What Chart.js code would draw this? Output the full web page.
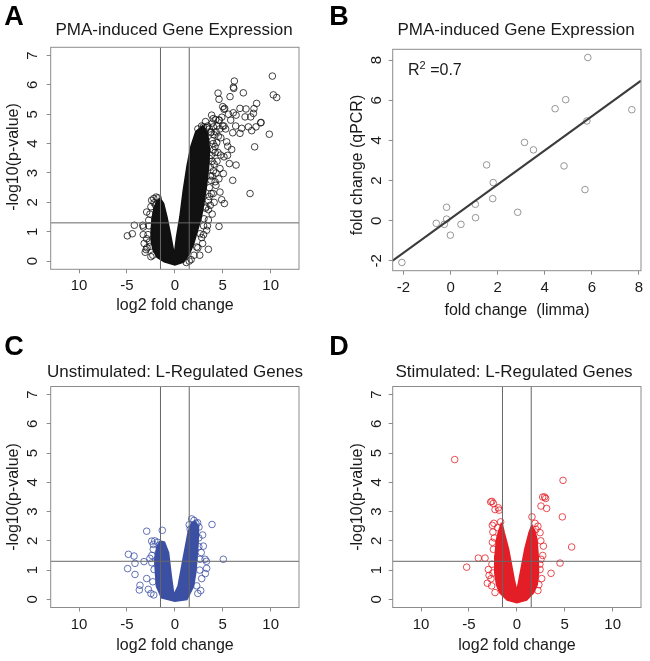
<!DOCTYPE html>
<html>
<head>
<meta charset="utf-8">
<title>PMA-induced gene expression</title>
<script src="https://cdn.jsdelivr.net/npm/chart.js@4.4.1/dist/chart.umd.min.js"></script>
<style>
  body { margin: 0; background: #fff; }
  #fig { position: relative; width: 650px; height: 661px; overflow: hidden;
         font-family: "Liberation Sans", Arial, sans-serif; color: #1a1a1a; }
  canvas { position: absolute; }
  .t { position: absolute; white-space: nowrap; line-height: 1; transform: translate(-50%, -50%); }
  .rot { transform: translate(-50%, -50%) rotate(-90deg); }
  .letter { font-weight: bold; font-size: 27px; color: #000; }
  .title { font-size: 17px; }
  .ax { font-size: 16px; }
  .r2 { position: absolute; font-size: 16px; line-height: 1; transform: translateY(-50%); }
  .r2 sup { font-size: 11px; vertical-align: 6px; }
</style>
</head>
<body>
<div id="fig">
  <canvas id="chartA" width="325" height="330" style="left:0;top:0"></canvas>
  <canvas id="chartB" width="325" height="330" style="left:325px;top:0"></canvas>
  <canvas id="chartC" width="325" height="331" style="left:0;top:330px"></canvas>
  <canvas id="chartD" width="325" height="331" style="left:325px;top:330px"></canvas>

  <div class="t letter" style="left:14px;top:16px">A</div>
  <div class="t title" style="left:174px;top:29px">PMA-induced Gene Expression</div>
  <div class="t ax" style="left:175px;top:305px">log2 fold change</div>
  <div class="t ax rot" style="left:13px;top:157px">-log10(p-value)</div>

  <div class="t letter" style="left:339px;top:16px">B</div>
  <div class="t title" style="left:516px;top:29px">PMA-induced Gene Expression</div>
  <div class="t ax" style="left:517px;top:310px">fold change&nbsp; (limma)</div>
  <div class="t ax rot" style="left:357px;top:165px">fold change (qPCR)</div>
  <div class="r2" style="left:408px;top:69px">R<sup>2</sup> =0.7</div>

  <div class="t letter" style="left:14px;top:346px">C</div>
  <div class="t title" style="left:175px;top:371px">Unstimulated: L-Regulated Genes</div>
  <div class="t ax" style="left:175px;top:645px">log2 fold change</div>
  <div class="t ax rot" style="left:13px;top:497px">-log10(p-value)</div>

  <div class="t letter" style="left:339px;top:346px">D</div>
  <div class="t title" style="left:514px;top:371px">Stimulated: L-Regulated Genes</div>
  <div class="t ax" style="left:517px;top:645px">log2 fold change</div>
  <div class="t ax rot" style="left:357px;top:497px">-log10(p-value)</div>
</div>
<script>
// volcano axes (shared by A, C, D)
const volXRange = [-12.96, 12.96];
const volYRange = [-0.28, 7.28];
const volXTicks = [-10, -5, 0, 5, 10];
const volXLabels = ['10', '-5', '0', '5', '10'];
const volYTicks = [0, 1, 2, 3, 4, 5, 6, 7];
const volYLabels = ['0', '1', '2', '3', '4', '5', '6', '7'];
const foldCut = [-1.5, 1.5];
const pCut = 1.301;

// A: PMA-induced, dense core outline + visible single genes
const aCore = [[-1.55,2.13],[-1.9,2.02],[-2.15,1.8],[-2.35,1.45],[-2.45,1.05],[-2.45,0.7],[-2.25,0.38],
  [-1.85,0.14],[-1.1,-0.02],[0.0,-0.12],[0.9,-0.03],[1.5,0.25],[1.95,0.6],[2.35,1.05],[2.75,1.5],
  [3.05,2.05],[3.3,2.6],[3.5,3.2],[3.6,3.8],[3.4,4.35],[2.9,4.6],[2.2,4.4],[1.7,3.9],[1.3,3.25],
  [0.9,2.4],[0.55,1.5],[0.2,0.82],[0.02,0.35],[-0.16,0.35],[-0.5,0.94],[-0.85,1.5],[-1.2,1.96]];
const aGenes = [[10.18,6.30],[6.21,6.13],[6.11,5.92],[6.15,5.88],[4.51,5.72],[7.15,5.73],[5.76,5.60],
  [4.61,5.51],[10.28,5.66],[10.63,5.57],[8.54,5.37],[5.0,5.26],[5.13,5.17],[5.2,5.2],[6.8,5.20],
  [7.43,5.18],[8.26,5.19],[6.1,5.05],[3.84,4.97],[4.26,4.82],[4.64,4.80],[5.83,4.80],[6.39,4.97],
  [7.33,4.91],[7.92,4.91],[8.2,5.03],[6.35,4.60],[6.98,4.52],[7.68,4.57],[8.47,4.57],[8.96,4.71],
  [9.0,4.72],[6.04,4.37],[6.8,4.35],[8.02,4.44],[9.86,4.32],[5.13,4.60],[3.43,4.60],[2.97,4.57],
  [4.02,4.57],[3.74,4.37],[4.54,4.25],[2.91,4.23],[4.37,4.03],[5.41,4.06],[5.52,3.91],[5.93,3.80],
  [8.33,3.89],[4.02,3.78],[4.78,3.61],[5.13,3.55],[5.69,3.32],[6.39,3.27],[4.71,3.15],[4.02,3.07],
  [5.06,2.98],[6.04,2.75],[3.78,2.75],[7.85,2.30],[4.71,2.35],[4.29,2.58],[4.89,2.09],[5.17,1.96],
  [3.5,2.07],[3.25,1.84],[3.04,1.44],[4.61,1.18],[3.32,1.05],[2.63,0.93],[2.28,0.48],[2.9,0.6],
  [3.5,1.4],[4.0,2.3],[4.4,3.4],[3.9,4.1],[4.3,4.4],[3.6,4.5],[3.2,4.75],[4.8,4.2],[5.3,4.5],
  [5.6,5.0],[4.9,4.9],[5.5,3.6],[4.6,2.8],[3.9,1.6],[3.6,2.5],[3.7,3.2],[3.5,0.4],[2.6,0.2],
  [4.1,4.3],[4.4,4.6],[3.9,4.7],[4.7,4.5],[4.2,3.9],[4.5,3.7],[3.8,3.6],[4.1,3.3],[4.3,3.0],
  [3.9,2.9],[4.2,2.7],[3.8,2.3],[4.1,2.0],[3.7,1.9],[3.4,1.2],[3.0,0.9],[4.6,4.8],[5.0,4.6],[4.0,4.85],
  [-4.96,0.86],[-4.44,0.93],[-4.23,1.22],[-3.29,1.16],[-3.35,1.22],[-2.94,1.67],[-2.73,1.39],
  [-2.94,0.76],[-3.0,0.39],[-2.42,2.07],[-2.17,1.98],[-2.6,1.6],[-2.7,1.2],[-2.8,0.9],[-2.6,0.5],
  [-2.9,0.45],[-2.3,0.2],[-2.0,1.9],[-2.2,2.13],[-1.75,2.15],[-1.95,2.18],[-2.5,1.85],[-2.65,0.65],
  [-3.1,0.3],[-3.2,0.6],[-2.5,0.15],[-3.3,0.9],
  [3.6,2.2],[3.5,1.75],[3.0,1.2],[2.8,0.8],[2.4,0.45],[2.0,0.2],[1.7,0.05],[3.7,2.9],[3.9,3.4],
  [3.6,3.5],[4.0,4.0],[3.8,4.4],[3.3,4.55],[2.8,4.6],[2.4,4.5],[4.2,3.7],[3.2,1.8],[1.5,0.0],[1.2,-0.05]];

// B: qPCR validation
const bXRange = [-2.46, 8.09];
const bYRange = [-2.49, 8.54];
const bXTicks = [-2, 0, 2, 4, 6, 8];
const bYTicks = [-2, 0, 2, 4, 6, 8];
const bLimma = [-2.07,-0.61,-0.27,-0.17,-0.17,-0.01,0.44,1.05,1.06,1.53,1.81,1.79,2.85,3.14,3.52,4.44,4.82,4.89,5.71,5.79,5.83,7.70];
const bQpcr  = [-2.08,-0.13,-0.18,0.67,0.08,-0.72,-0.18,0.82,0.15,2.78,1.90,1.10,0.42,3.90,3.53,5.58,2.73,6.03,1.55,4.97,8.13,5.53];
const fitIntercept = 0.1;
const fitSlope = 0.85;

// C: unstimulated
const cCore = [[-1.55,1.99],[-1.85,1.8],[-2.07,1.37],[-2.0,0.9],[-1.9,0.45],[-1.37,0.06],[0.0,-0.06],
  [1.24,0.0],[1.93,0.45],[2.15,0.9],[2.28,1.37],[2.4,1.9],[2.45,2.5],[2.1,2.65],[1.76,2.62],[1.4,2.28],
  [0.88,1.37],[0.36,0.45],[0.0,0.2],[-0.16,0.23],[-0.4,0.8],[-0.68,1.59],[-1.1,1.95]];
const cGenes = [[-4.85,1.54],[-4.26,1.48],[-4.16,1.23],[-4.93,1.05],[-4.16,0.85],[-3.22,1.29],[-2.94,2.33],
  [-1.31,2.36],[-2.42,1.99],[-2.25,1.88],[-2.25,1.71],[-3.64,0.48],[-3.71,0.32],[-2.77,0.34],[-2.94,0.71],
  [-2.17,1.02],[-2.3,0.6],[-2.6,1.4],[-2.4,1.5],[-2.1,2.0],[-1.8,1.95],[-2.5,0.2],[-2.2,0.15],[-2.4,1.25],
  [5.06,1.37],[3.88,2.56],[1.76,2.75],[2.38,2.62],[2.52,2.47],[2.97,1.82],[3.15,1.37],[3.32,1.06],
  [3.18,0.88],[2.80,0.71],[2.28,0.46],[2.63,1.37],[2.6,1.0],[2.75,1.6],[2.5,2.1],[2.2,2.6],[2.0,2.7],
  [1.5,2.55],[1.6,2.4],[2.9,2.2],[2.7,0.3],[2.4,0.2],[3.3,1.3],[2.5,1.8]];

// D: stimulated
const dCore = [[-1.58,2.62],[-1.9,2.3],[-2.1,2.05],[-2.25,1.5],[-2.28,0.91],[-2.1,0.5],[-1.76,0.23],
  [-1.0,-0.02],[0.0,-0.11],[1.0,-0.02],[1.72,0.23],[2.1,0.5],[2.24,0.91],[2.2,1.5],[2.07,2.05],
  [1.85,2.35],[1.55,2.5],[1.3,2.28],[0.85,1.71],[0.26,0.68],[0.0,0.25],[-0.3,0.68],[-0.89,1.71],[-1.34,2.28]];
const dGenes = [[-6.49,4.78],[4.82,4.07],[4.75,2.82],[5.72,1.79],[4.51,1.24],[3.57,0.89],[-5.24,1.10],
  [-4.02,1.41],[-3.32,1.41],[-2.73,3.33],[-2.6,3.35],[-2.45,3.28],[-2.28,3.07],[-1.93,3.13],[-1.85,3.05],
  [2.70,3.50],[2.9,3.5],[3.01,3.45],[2.52,3.19],[3.11,3.11],[-2.56,2.53],[-1.69,2.65],[-2.0,2.45],
  [-2.35,2.10],[1.58,2.82],[2.0,2.39],[2.42,2.28],[2.77,1.82],[2.52,1.37],[2.42,1.02],[2.59,0.71],
  [2.3,0.5],[2.2,0.3],[-2.97,1.02],[-2.9,0.82],[-3.08,0.55],[-2.63,0.46],[-2.28,0.23],[-2.45,1.71],
  [-2.55,1.95],[-2.5,2.3],[-2.4,2.6],[-2.7,0.7],[1.9,2.6],[2.2,2.5],[2.5,2.0],[2.7,1.5],[2.4,1.2],
  [-2.6,1.2],[-2.5,0.9]];

Chart.defaults.font.family = '"Liberation Sans", Arial, sans-serif';
Chart.defaults.font.size = 15;
Chart.defaults.color = '#1a1a1a';

// frame round the plot region, like R's box()
const boxPlugin = {
  id: 'box',
  afterDraw(chart) {
    const {ctx, chartArea: a} = chart;
    ctx.save();
    ctx.strokeStyle = '#8c8c8c';
    ctx.lineWidth = 1;
    ctx.strokeRect(a.left, a.top, a.right - a.left, a.bottom - a.top);
    ctx.restore();
  }
};

const xy = pairs => pairs.map(p => ({x: p[0], y: p[1]}));

function axis(range, values, labels, pad, vertical) {
  return {
    type: 'linear',
    min: range[0],
    max: range[1],
    afterBuildTicks: s => { s.ticks = values.map(v => ({value: v})); },
    ticks: vertical
      ? {padding: pad, minRotation: 90, maxRotation: 90, crossAlign: 'center', autoSkip: false,
         callback: v => labels[values.indexOf(v)]}
      : {padding: pad, maxRotation: 0, autoSkip: false, callback: v => labels[values.indexOf(v)]},
    grid: {drawOnChartArea: false, tickLength: 4, color: '#8c8c8c'},
    border: {display: false}
  };
}

function line(points, color, width) {
  return {type: 'line', data: xy(points), borderColor: color, borderWidth: width, pointRadius: 0, fill: false};
}

function makeChart(id, box, xScale, yScale, datasets) {
  const c = document.getElementById(id);
  xScale.afterFit = s => { s.height = c.height - box.bottom; };
  yScale.afterFit = s => { s.width = box.left; };
  return new Chart(c, {
    type: 'scatter',
    data: {datasets},
    options: {
      responsive: false,
      animation: false,
      events: [],
      layout: {padding: {top: box.top, right: c.width - box.right, left: 0, bottom: 0}},
      plugins: {legend: {display: false}, tooltip: {enabled: false}},
      scales: {x: xScale, y: yScale}
    },
    plugins: [boxPlugin]
  });
}

function volcano(id, box, core, genes, color, yPad) {
  const refColor = '#666';
  makeChart(id, box,
    axis(volXRange, volXTicks, volXLabels, 4, false),
    axis(volYRange, volYTicks, volYLabels, yPad, true),
    [
      line([[foldCut[0], volYRange[0]], [foldCut[0], volYRange[1]]], refColor, 1),
      line([[foldCut[1], volYRange[0]], [foldCut[1], volYRange[1]]], refColor, 1),
      line([[volXRange[0], pCut], [volXRange[1], pCut]], refColor, 1),
      {data: xy(genes), borderColor: color, backgroundColor: 'rgba(0,0,0,0)', borderWidth: 0.8, radius: 3.3},
      {type: 'line', data: xy(core.concat([core[0]])), borderColor: color, backgroundColor: color,
       borderWidth: 2, pointRadius: 0, fill: 'shape'}
    ]);
}

volcano('chartA', {left: 50.7, top: 47.3, right: 299, bottom: 269.3}, aCore, aGenes, '#111', 9.2);
volcano('chartC', {left: 50.7, top: 56.5, right: 299, bottom: 277.5}, cCore, cGenes, '#3b4fa3', 9.2);
volcano('chartD', {left: 67.7, top: 56.5, right: 316, bottom: 277.5}, dCore, dGenes, '#e41e26', 7.8);

// B: scatter with least-squares line across the plot
makeChart('chartB', {left: 67.7, top: 49.3, right: 316, bottom: 270.7},
  axis(bXRange, bXTicks, bXTicks.map(String), 4, false),
  axis(bYRange, bYTicks, bYTicks.map(String), 5.3, true),
  [
    line([[bXRange[0], fitIntercept + fitSlope * bXRange[0]], [bXRange[1], fitIntercept + fitSlope * bXRange[1]]], '#3c3c3c', 2),
    {data: bLimma.map((x, i) => ({x, y: bQpcr[i]})), borderColor: '#8a8a8a', backgroundColor: 'rgba(0,0,0,0)',
     borderWidth: 0.9, radius: 3.3}
  ]);
</script>
</body>
</html>
